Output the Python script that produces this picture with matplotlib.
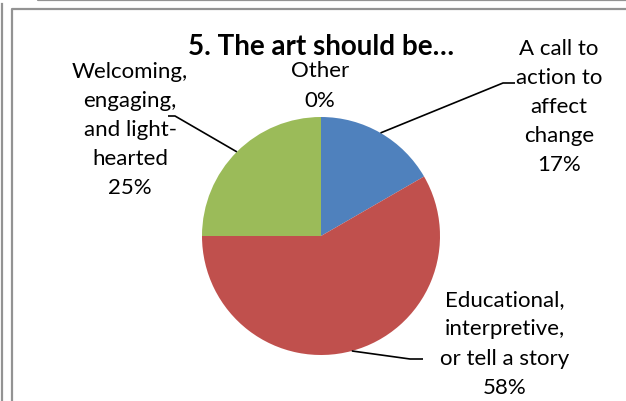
import matplotlib.pyplot as plt
import numpy as np
from matplotlib.lines import Line2D

labels = ['A call to\naction to\naffect\nchange', 'Educational,\ninterpretive,\nor tell a story',
          'Welcoming,\nengaging,\nand light-\nhearted', 'Other']
values = [2, 7, 3, 0]
colors = ['#4F81BD', '#C0504D', '#9BBB59', '#8064A2']
title = '5. The art should be\u2026'

W, H = 626, 402
fig = plt.figure(figsize=(W / 100, H / 100), dpi=100)
ax = fig.add_axes([0, 0, 1, 1])
ax.set_xlim(0, W)
ax.set_ylim(0, H)
ax.set_aspect('equal')
ax.axis('off')

cx, cy, r = 321, H - 237, 119
wedges, _ = ax.pie(values, colors=colors, startangle=90, counterclock=False,
                   center=(cx, cy), radius=r, wedgeprops=dict(linewidth=0))
ax.set_xlim(0, W)
ax.set_ylim(0, H)

font = 'Lato'
pct = [v / sum(values) for v in values]

# label positions (px, top-origin), leader elbow / end
lab_pos = [(559, 107), (505, 344), (130, 130), (320, 86)]
elbows = [((503, 84), (515, 84)), ((410, 360), (423, 360)), ((175, 117), (168, 117)), None]

for i, w in enumerate(wedges):
    txt = '%s\n%d%%' % (labels[i], round(pct[i] * 100))
    lx, ly = lab_pos[i]
    ax.text(lx, H - ly, txt, ha='center', va='center', fontsize=16, family=font,
            linespacing=1.57, color='black')
    if elbows[i] is not None:
        mid = np.deg2rad((w.theta1 + w.theta2) / 2)
        sx, sy = cx + r * np.cos(mid), cy + r * np.sin(mid)
        (ex, ey), (fx, fy) = elbows[i]
        ax.plot([sx, ex, fx], [sy, H - ey, H - fy], color='black', lw=1.2,
                solid_capstyle='butt')

ax.text(321, H - 47, title, ha='center', va='center', fontsize=20, fontweight='bold',
        family=font)

# frame lines
gray = '#939393'
def fl(xs, ys):
    fig.add_artist(Line2D([x / W for x in xs], [1 - y / H for y in ys], color=gray, lw=1.6))
fl([38, 38, 626], [0, 1, 1])
fl([2, 2], [5, 402])
fl([12, 12, 626], [402, 9.5, 9.5])

fig.savefig('out.png', dpi=100)
